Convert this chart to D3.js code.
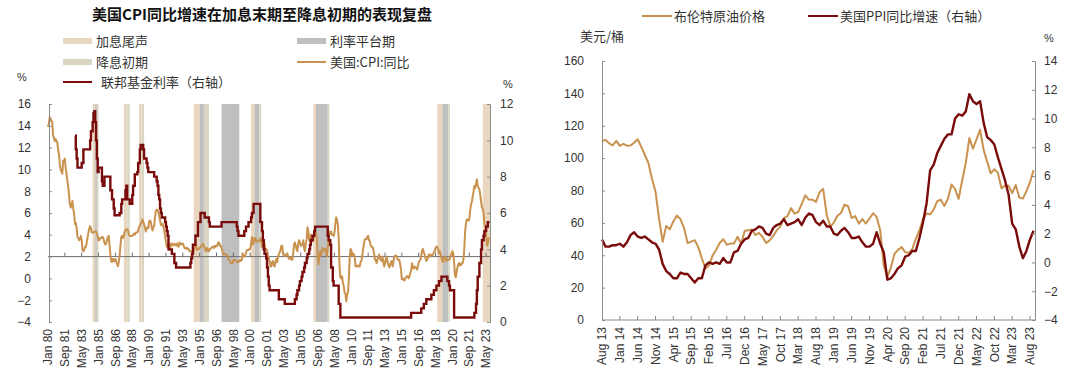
<!DOCTYPE html>
<html><head><meta charset="utf-8">
<script src="https://cdn.jsdelivr.net/npm/d3@7"></script>
<style>
body{margin:0;background:#fff}
svg text{font-family:Arial,"Liberation Sans","Noto Sans CJK SC",sans-serif}
.cjk{font-family:"Noto Sans CJK SC",sans-serif !important}
</style>
</head><body>
<svg id="c" width="1080" height="380"></svg>
<script>
// ---------------- Left chart data ----------------
const cpiStart = "1980-01";
const cpiYoY = [
13.9,14.2,14.8,14.7,14.4,14.4,13.1,12.9,12.6,12.8,12.6,12.5,
11.8,11.4,10.5,10.0,9.8,9.6,10.8,10.8,11.0,10.1,9.6,8.9,
8.4,7.6,6.8,6.5,6.7,7.1,6.4,5.9,5.0,5.1,4.6,3.8,
3.7,3.5,3.6,3.9,3.5,2.6,2.5,2.6,2.9,2.9,3.3,3.8,
4.2,4.6,4.8,4.6,4.2,4.2,4.2,4.3,4.3,4.3,4.1,3.9,
3.5,3.5,3.7,3.7,3.8,3.8,3.6,3.3,3.1,3.2,3.5,3.8,
3.9,3.1,2.2,1.6,1.5,1.8,1.6,1.6,1.8,1.5,1.3,1.1,
1.5,2.1,3.0,3.8,3.9,3.7,3.9,4.3,4.4,4.5,4.5,4.4,
4.0,3.9,3.9,3.9,3.9,4.0,4.1,4.0,4.2,4.2,4.2,4.4,
4.7,4.8,5.0,5.1,5.4,5.2,5.0,4.7,4.3,4.5,4.7,4.6,
5.2,5.3,5.2,4.7,4.4,4.7,4.8,5.6,6.2,6.3,6.3,6.1,
5.7,5.3,4.9,4.9,5.0,4.7,4.4,3.8,3.4,2.9,3.0,3.1,
2.6,2.8,3.2,3.2,3.0,3.1,3.2,3.1,3.0,3.2,3.0,2.9,
3.3,3.2,3.1,3.2,3.2,3.0,2.8,2.8,2.7,2.8,2.7,2.7,
2.5,2.5,2.5,2.4,2.3,2.5,2.8,2.9,3.0,2.6,2.7,2.7,
2.8,2.9,2.9,3.1,3.2,3.0,2.8,2.6,2.5,2.8,2.6,2.5,
2.7,2.7,2.8,2.9,2.9,2.8,3.0,2.9,3.0,3.0,3.3,3.3,
3.0,3.0,2.8,2.5,2.2,2.3,2.2,2.2,2.2,2.1,1.8,1.7,
1.6,1.4,1.4,1.4,1.7,1.7,1.7,1.6,1.5,1.5,1.5,1.6,
1.7,1.6,1.7,2.3,2.1,2.0,2.1,2.3,2.6,2.6,2.6,2.7,
2.7,3.2,3.8,3.1,3.2,3.7,3.7,3.4,3.5,3.4,3.4,3.4,
3.7,3.5,2.9,3.3,3.6,3.2,2.7,2.7,2.6,2.1,1.9,1.6,
1.1,1.1,1.5,1.6,1.2,1.1,1.5,1.8,1.5,2.0,2.2,2.4,
2.6,3.0,3.0,2.2,2.1,2.1,2.1,2.2,2.3,2.0,1.8,1.9,
1.9,1.7,1.7,2.3,3.1,3.3,3.0,2.7,2.5,3.2,3.5,3.3,
3.0,3.0,3.1,3.5,2.8,2.5,3.2,3.6,4.7,4.3,3.5,3.4,
4.0,3.6,3.4,3.5,4.2,4.3,4.1,3.8,2.1,1.3,2.0,2.5,
2.1,2.4,2.8,2.6,2.7,2.7,2.4,2.0,2.8,3.5,4.3,4.1,
4.3,4.0,4.0,3.9,4.2,5.0,5.6,5.4,4.9,3.7,1.1,0.1,
0.0,0.2,-0.4,-0.7,-1.3,-1.4,-2.1,-1.5,-1.3,-0.2,1.8,2.7,
2.6,2.1,2.3,2.2,2.0,1.1,1.2,1.1,1.1,1.2,1.1,1.5,
1.6,2.1,2.7,3.2,3.6,3.6,3.6,3.8,3.9,3.5,3.4,3.0,
2.9,2.9,2.7,2.3,1.7,1.7,1.4,1.7,2.0,2.2,1.8,1.7,
1.6,2.0,1.5,1.1,1.4,1.8,2.0,1.5,1.2,1.0,1.2,1.5,
1.6,1.1,1.5,2.0,2.1,2.1,2.0,1.7,1.7,1.7,1.3,0.8,
-0.1,0.0,-0.1,-0.2,0.0,0.1,0.2,0.2,0.0,0.2,0.5,0.7,
1.4,1.0,0.9,1.1,1.0,1.0,0.8,1.1,1.5,1.6,1.7,2.1,
2.5,2.7,2.4,2.2,1.9,1.6,1.7,1.9,2.2,2.0,2.2,2.1,
2.1,2.2,2.4,2.5,2.8,2.9,2.9,2.7,2.3,2.5,2.2,1.9,
1.6,1.5,1.9,2.0,1.8,1.6,1.8,1.7,1.7,1.8,2.1,2.3,
2.5,2.3,1.5,0.3,0.1,0.6,1.0,1.3,1.4,1.2,1.2,1.4,
1.4,1.7,2.6,4.2,5.0,5.4,5.4,5.3,5.4,6.2,6.8,7.0,
7.5,7.9,8.5,8.3,8.6,9.1,8.5,8.3,8.2,7.7,7.1,6.5,
6.4,6.0,5.0,4.9,4.0,3.0,3.2,3.7,3.7
];
const fedDates = ["1982-09","1982-10","1982-11","1982-12","1983-05","1983-07","1984-03","1984-04","1984-06","1984-07","1984-08","1984-09","1984-10","1984-11","1984-12",
"1985-01","1985-05","1985-06","1985-08","1986-03","1986-05","1986-07","1986-08","1987-02","1987-04","1987-05","1987-09","1987-10","1987-11","1988-02",
"1988-05","1988-06","1988-08","1988-11","1988-12","1989-02","1989-03","1989-06","1989-07","1989-10","1989-11","1989-12","1990-07","1990-10","1990-11","1990-12",
"1991-01","1991-02","1991-03","1991-04","1991-08","1991-09","1991-10","1991-11","1991-12","1992-04","1992-07","1992-09","1994-02","1994-03","1994-04","1994-05",
"1994-08","1994-11","1995-02","1995-07","1995-12","1996-01","1997-03","1998-09","1998-10","1998-11","1999-06","1999-08","1999-11","2000-02","2000-03","2000-05",
"2001-01","2001-03","2001-04","2001-05","2001-06","2001-08","2001-09","2001-10","2001-11","2001-12","2002-11","2003-06","2004-06","2004-08","2004-09","2004-11",
"2004-12","2005-02","2005-03","2005-05","2005-06","2005-08","2005-09","2005-11","2005-12","2006-01","2006-03","2006-05","2006-06","2007-09","2007-10","2007-12",
"2008-01","2008-03","2008-04","2008-10","2008-12","2015-12","2016-12","2017-03","2017-06","2017-12","2018-03","2018-06","2018-09","2018-12","2019-07","2019-09",
"2019-10","2020-03","2022-03","2022-05","2022-06","2022-07","2022-09","2022-11","2022-12","2023-02","2023-03","2023-05","2023-07","2023-09"];
const fedRates = [10.25,9.5,9.0,8.5,8.75,9.5,10.0,10.5,11.0,11.5,11.6,11.0,10.0,9.0,8.25,
8.5,7.75,7.5,8.0,7.25,6.75,6.25,5.875,6.0,6.5,6.75,7.25,7.5,6.75,6.5,
7.0,7.5,8.125,8.25,8.75,9.5,9.75,9.5,9.0,8.75,8.5,8.25,8.0,7.75,7.5,7.0,
6.75,6.25,6.0,5.75,5.5,5.25,5.0,4.75,4.0,3.75,3.25,3.0,3.25,3.5,3.75,4.25,
4.75,5.5,6.0,5.75,5.5,5.25,5.5,5.25,5.0,4.75,5.0,5.25,5.5,5.75,6.0,6.5,
5.5,5.0,4.5,4.0,3.75,3.5,3.0,2.5,2.0,1.75,1.25,1.0,1.25,1.5,1.75,2.0,
2.25,2.5,2.75,3.0,3.25,3.5,3.75,4.0,4.25,4.5,4.75,5.0,5.25,4.75,4.5,4.25,
3.0,2.25,2.0,1.0,0.25,0.5,0.75,1.0,1.25,1.5,1.75,2.0,2.25,2.5,2.25,2.0,
1.75,0.25,0.5,1.0,1.75,2.5,3.25,4.0,4.5,4.75,5.0,5.25,5.5,5.5];
const bandStarts = ["1984-06","1984-09","1984-11","1987-07","1987-11","1989-01","1989-04","1994-06","1995-01","1995-06","1997-03","2000-02","2000-06","2000-12","2006-04","2006-07","2007-09","2018-07","2019-01","2019-08","2023-01"];
const bandEnds   = ["1984-09","1984-11","1985-01","1987-11","1988-02","1989-04","1989-07","1995-01","1995-06","1995-12","1998-12","2000-06","2000-12","2001-02","2006-07","2007-09","2007-11","2019-01","2019-08","2019-10","2023-10"];
const bandKinds  = ["end","flat","cut","end","cut","end","cut","end","flat","cut","flat","end","flat","cut","end","flat","cut","end","flat","cut","end"];
const leftAxisTicks = [-4,-2,0,2,4,6,8,10,12,14,16];
const rightAxisTicks = [0,2,4,6,8,10,12];
const monthNames = ["Jan","Feb","Mar","Apr","May","Jun","Jul","Aug","Sep","Oct","Nov","Dec"];

// ---------------- Right chart data ----------------
const oilStart = "2013-08";
const brent = [
110.5,111.3,109.1,107.9,110.7,
107.6,108.8,107.7,107.8,109.5,111.7,107.0,102.1,97.0,87.4,79.4,62.5,
48.4,58.0,56.0,60.9,64.6,62.3,56.8,47.6,48.4,49.3,45.0,38.0,
31.9,33.5,39.8,43.3,47.6,49.9,46.5,47.2,47.2,51.4,47.1,55.0,
55.5,55.9,52.5,53.8,51.4,47.6,49.2,51.9,55.5,57.7,62.9,64.2,
69.1,65.7,66.7,71.8,77.0,74.4,74.3,73.0,78.9,81.0,65.0,57.7,
60.2,64.4,66.1,71.2,70.3,63.0,64.2,59.5,62.3,59.6,62.7,65.9,
63.7,55.5,33.7,26.6,32.4,40.8,43.3,45.0,41.9,41.5,43.9,50.2,
55.3,62.3,65.8,65.3,68.3,73.4,74.3,70.5,74.9,83.7,80.8,74.8,
86.5,97.1,112.5,105.8,111.6,117.5,105.1,97.7,90.6,93.1,90.9,81.3,
83.1,83.0,78.4,83.4,75.7,75.0,79.6,85.1,92.6];
const ppiYoY = [
1.6,1.1,1.1,1.2,1.2,
1.3,1.1,1.4,1.9,2.1,1.8,1.7,1.8,1.6,1.4,1.3,0.9,
-0.1,-0.6,-0.8,-1.1,-1.1,-0.7,-0.8,-0.8,-1.1,-1.4,-1.1,-1.1,
-0.2,0.0,-0.1,0.0,-0.1,0.3,0.0,0.0,0.7,0.8,1.3,1.6,
1.7,2.2,2.3,2.5,2.4,2.0,1.9,2.4,2.6,2.7,3.0,2.6,
2.7,2.8,3.0,2.6,3.1,3.4,3.3,2.8,2.6,2.9,2.5,2.5,
2.0,1.9,2.2,2.4,2.1,1.7,1.7,1.8,1.4,1.1,1.1,1.3,
2.1,1.3,0.7,-1.2,-1.1,-0.8,-0.4,-0.2,0.4,0.5,0.8,0.8,
1.7,2.8,4.1,6.4,6.8,7.6,8.1,8.6,8.9,8.9,10.0,10.3,
10.2,10.5,11.7,11.2,11.0,11.2,9.7,8.7,8.5,8.2,7.3,6.5,
5.7,4.7,2.7,2.3,1.1,0.3,0.8,1.6,2.2];
const oilAxisTicks = [0,20,40,60,80,100,120,140,160];
const ppiAxisTicks = [-4,-2,0,2,4,6,8,10,12,14];

// ---------------- helpers ----------------
const C = {cpi:"#C9924E", fed:"#7A0B0B", end:"#E9D6BE", flat:"#BFBFBF", cut:"#D9D7C4", axis:"#8C8C8C", text:"#333"};
function monthsFrom(s, base){ const [y,m]=s.split("-").map(Number); const [by,bm]=base.split("-").map(Number); return (y-by)*12+(m-bm); }
function labelOf(base, k){ const [by,bm]=base.split("-").map(Number); const t=(by*12+bm-1)+k; const y=Math.floor(t/12), m=t%12; return monthNames[m]+" "+String(y%100).padStart(2,"0"); }

const svg = d3.select("#c");

// ================= LEFT CHART =================
const xL = d3.scaleLinear().domain([0,524.6]).range([48,490]);
const yL = d3.scaleLinear().domain([-4,16]).range([322,104]);
const yR = d3.scaleLinear().domain([0,12]).range([322,104]);

// bands
svg.append("g").selectAll("rect").data(bandStarts.map((s,i)=>({s:monthsFrom(s,cpiStart),e:monthsFrom(bandEnds[i],cpiStart),k:bandKinds[i]})))
  .join("rect").attr("x",d=>xL(d.s)).attr("width",d=>xL(d.e)-xL(d.s)).attr("y",104).attr("height",218).attr("fill",d=>C[d.k]);

// horizontal reference axis at CPI = 2
const gH = svg.append("g");
gH.append("line").attr("x1",48).attr("x2",490).attr("y1",yL(2)).attr("y2",yL(2)).attr("stroke","#6e6e6e").attr("stroke-width",1);
const xTicksL = d3.range(0,521,20);
gH.selectAll("line.t").data(xTicksL.slice(1)).join("line").attr("class","t")
  .attr("x1",d=>xL(d)).attr("x2",d=>xL(d)).attr("y1",yL(2)).attr("y2",yL(2)-4).attr("stroke","#6e6e6e");

// lines
svg.append("path").datum(cpiYoY).attr("fill","none").attr("stroke",C.cpi).attr("stroke-width",2).attr("stroke-linejoin","round")
  .attr("d",d3.line().x((d,i)=>xL(i)).y(d=>yL(d)));
svg.append("path").datum(fedDates.map((s,i)=>[monthsFrom(s,cpiStart),fedRates[i]])).attr("fill","none").attr("stroke",C.fed).attr("stroke-width",2.4)
  .attr("d",d3.line().x(d=>xL(d[0])).y(d=>yR(d[1])).curve(d3.curveStepAfter));

// axes
function styleAxis(g){ g.selectAll("path,line").attr("stroke",C.axis); g.selectAll("text").attr("fill",C.text).attr("font-size",12).attr("font-family","Arial, Liberation Sans, sans-serif"); }
svg.append("g").attr("transform","translate(49,0)")
  .call(d3.axisLeft(yL).tickValues(leftAxisTicks).tickSize(-3).tickPadding(18).tickFormat(d3.format("d"))).call(styleAxis);
svg.append("g").attr("transform","translate(490,0)")
  .call(d3.axisRight(yR).tickValues(rightAxisTicks).tickSize(-3).tickPadding(10).tickFormat(d3.format("d"))).call(styleAxis);

// x labels
svg.append("g").selectAll("text").data(xTicksL).join("text")
  .attr("transform",d=>`translate(${xL(d)},329) rotate(-90)`).attr("text-anchor","end").attr("dy","0.35em")
  .attr("font-size",12).attr("fill",C.text).text(d=>labelOf(cpiStart,d));

// title
svg.append("text").attr("class","cjk").attr("x",262).attr("y",20).attr("text-anchor","middle").attr("font-size",15).attr("font-weight","bold").attr("fill","#111")
  .text("美国CPI同比增速在加息末期至降息初期的表现复盘");

// legend
const legL = svg.append("g").attr("class","cjk");
const legItems = [
  {x:63,y:41,t:"加息尾声",k:"rect",c:C.end},
  {x:297,y:41,t:"利率平台期",k:"rect",c:C.flat},
  {x:63,y:62,t:"降息初期",k:"rect",c:C.cut},
  {x:297,y:62,t:"美国:CPI:同比",k:"line",c:C.cpi},
  {x:63,y:82,t:"联邦基金利率（右轴）",k:"line",c:C.fed,tx:101}
];
legItems.forEach(d=>{
  if(d.k==="rect") legL.append("rect").attr("x",d.x).attr("y",d.y-3).attr("width",29).attr("height",6).attr("fill",d.c);
  else legL.append("line").attr("x1",d.x).attr("x2",d.x+29).attr("y1",d.y).attr("y2",d.y).attr("stroke",d.c).attr("stroke-width",2);
  legL.append("text").attr("class","cjk").attr("x",d.tx||d.x+33).attr("y",d.y).attr("dy","0.35em").attr("font-size",13).attr("fill",C.text).text(d.t);
});
svg.append("text").attr("x",22).attr("y",77).attr("dy","0.35em").attr("text-anchor","middle").attr("font-size",11).attr("fill",C.text).text("%");
svg.append("text").attr("x",508).attr("y",84).attr("dy","0.35em").attr("text-anchor","middle").attr("font-size",11).attr("fill",C.text).text("%");

// ================= RIGHT CHART =================
const xO = d3.scaleLinear().domain([0,121.4]).range([602,1035]);
const yO = d3.scaleLinear().domain([0,160]).range([320,61]);
const yP = d3.scaleLinear().domain([-4,14]).range([320,61]);

// bottom axis
const gB = svg.append("g");
gB.append("line").attr("x1",602).attr("x2",1035).attr("y1",320).attr("y2",320).attr("stroke",C.axis);
const xTicksO = d3.range(0,121,5);
gB.selectAll("line.t").data(xTicksO.slice(1)).join("line").attr("class","t")
  .attr("x1",d=>xO(d)).attr("x2",d=>xO(d)).attr("y1",320).attr("y2",316).attr("stroke",C.axis);

svg.append("path").datum(brent).attr("fill","none").attr("stroke",C.cpi).attr("stroke-width",2).attr("stroke-linejoin","round")
  .attr("d",d3.line().x((d,i)=>xO(i)).y(d=>yO(d)));
svg.append("path").datum(ppiYoY).attr("fill","none").attr("stroke",C.fed).attr("stroke-width",2.4).attr("stroke-linejoin","round")
  .attr("d",d3.line().x((d,i)=>xO(i)).y(d=>yP(d)));

svg.append("g").attr("transform","translate(602,0)")
  .call(d3.axisLeft(yO).tickValues(oilAxisTicks).tickSize(-3).tickPadding(18)).call(styleAxis);
svg.append("g").attr("transform","translate(1035,0)")
  .call(d3.axisRight(yP).tickValues(ppiAxisTicks).tickSize(-3).tickPadding(9).tickFormat(d3.format("d"))).call(styleAxis);

svg.append("g").selectAll("text").data(xTicksO).join("text")
  .attr("transform",d=>`translate(${xO(d)},327) rotate(-90)`).attr("text-anchor","end").attr("dy","0.35em")
  .attr("font-size",12).attr("fill",C.text).text(d=>labelOf(oilStart,d));

// legend right
const legR = svg.append("g");
[{x:642,t:"布伦特原油价格",c:C.cpi},{x:808,t:"美国PPI同比增速（右轴）",c:C.fed}].forEach(d=>{
  legR.append("line").attr("x1",d.x).attr("x2",d.x+30).attr("y1",16).attr("y2",16).attr("stroke",d.c).attr("stroke-width",2);
  legR.append("text").attr("class","cjk").attr("x",d.x+32).attr("y",16).attr("dy","0.35em").attr("font-size",13).attr("fill",C.text).text(d.t);
});
svg.append("text").attr("class","cjk").attr("x",580).attr("y",36).attr("dy","0.35em").attr("font-size",13).attr("fill",C.text).text("美元/桶");
svg.append("text").attr("x",1049).attr("y",38).attr("dy","0.35em").attr("text-anchor","middle").attr("font-size",11).attr("fill",C.text).text("%");
</script>
</body></html>
